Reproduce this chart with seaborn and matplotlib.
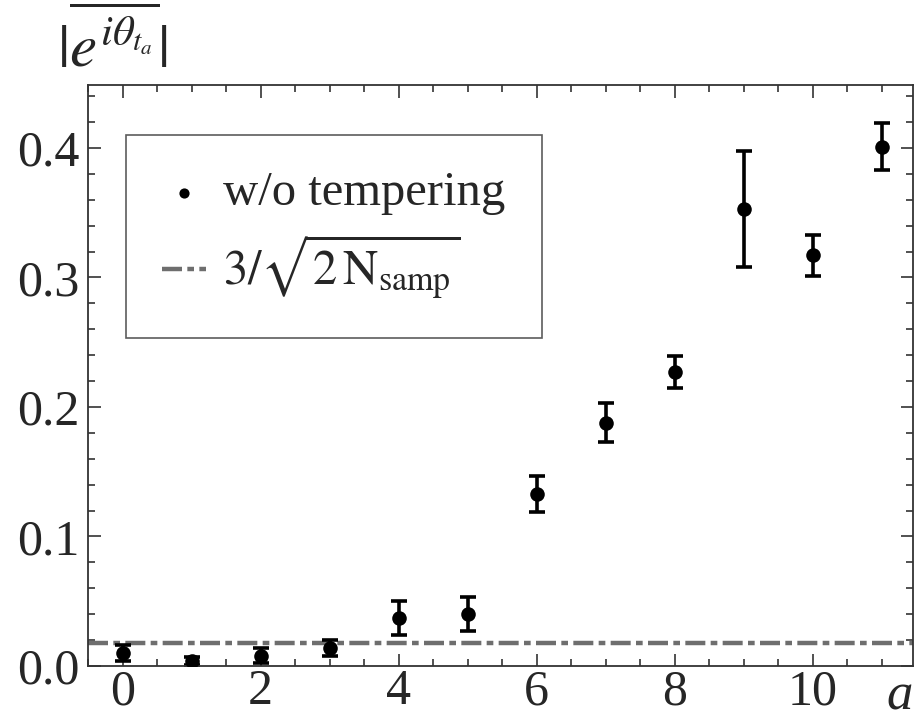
import numpy as np
import pandas as pd
import seaborn as sns
import matplotlib.pyplot as plt
from matplotlib.ticker import MultipleLocator

# Data
a_vals = [0, 1, 2, 3, 4, 5, 6, 7, 8, 9, 10, 11]
phase = [0.010, 0.004, 0.008, 0.014, 0.037, 0.040, 0.133, 0.188, 0.227, 0.353, 0.317, 0.401]
phase_err = [0.006, 0.003, 0.006, 0.006, 0.013, 0.013, 0.014, 0.015, 0.012, 0.045, 0.016, 0.018]
threshold = 0.0175

df = pd.DataFrame({"a": a_vals, "phase": phase, "err": phase_err})

sns.set_style("ticks")
plt.rcParams["font.family"] = ["Liberation Serif", "DejaVu Serif"]
plt.rcParams["mathtext.fontset"] = "stix"

fig = plt.figure(figsize=(9.15, 7.21), dpi=100)
ax = fig.add_axes([88 / 915, 1 - 666 / 721, 825 / 915, 581 / 721])

# threshold line
ax.axhline(threshold, color="#6e6e6e", lw=3.2, linestyle=(0, (4.5, 1.2, 1.5, 1.2)),
           label=r"$3/\sqrt{2\,\mathrm{N}_{\mathrm{samp}}}$", zorder=1)

# error bars + points
ax.errorbar(df["a"], df["phase"], yerr=df["err"], fmt="none", ecolor="black",
            elinewidth=2.6, capsize=6, capthick=2.6, zorder=2)
sns.scatterplot(data=df, x="a", y="phase", ax=ax, color="black", s=110,
                edgecolor="black", linewidth=0, label="w/o tempering", zorder=3)

ax.set_xlim(-0.5, 11.45)
ax.set_ylim(0, 0.4486)
ax.xaxis.set_major_locator(MultipleLocator(2))
ax.xaxis.set_minor_locator(MultipleLocator(0.5))
ax.yaxis.set_major_locator(MultipleLocator(0.1))
ax.yaxis.set_minor_locator(MultipleLocator(0.02))
ax.yaxis.set_major_formatter(plt.FormatStrFormatter("%.1f"))
ax.tick_params(which="both", direction="in", top=True, right=True, width=1.2, color="#333333")
ax.tick_params(which="major", length=9, labelsize=36)
ax.tick_params(axis="x", which="major", pad=2)
ax.tick_params(axis="y", which="major", pad=6)
ax.tick_params(which="minor", length=5)
for s in ax.spines.values():
    s.set_linewidth(1.3)
    s.set_color("#333333")
ax.set_xlabel("")
ax.set_ylabel("")

# axis labels placed like the original
ax.text(1.0, -0.012, "a", transform=ax.transAxes, ha="right", va="top",
        fontsize=38, style="italic")
fig.text(0.062, 0.89, r"$|\overline{e^{i\theta_{t_a}}}|$", ha="left", va="bottom", fontsize=44)

handles, labels = ax.get_legend_handles_labels()
order = [labels.index("w/o tempering"), labels.index(r"$3/\sqrt{2\,\mathrm{N}_{\mathrm{samp}}}$")]
leg = ax.legend([handles[i] for i in order], [labels[i] for i in order],
                loc="upper left", bbox_to_anchor=(0.046, 0.914), borderaxespad=0,
                fontsize=35, frameon=True, fancybox=False, edgecolor="#333333",
                handlelength=0.9, handletextpad=0.35, borderpad=0.75, labelspacing=0.35,
                markerscale=0.7)
leg.get_frame().set_linewidth(1.2)

plt.savefig("out.png", dpi=100)
